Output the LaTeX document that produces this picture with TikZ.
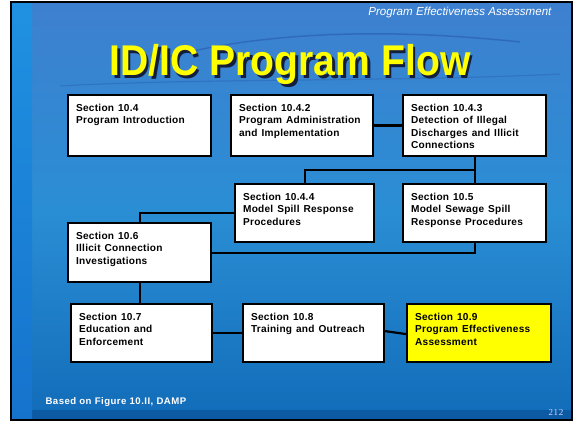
\documentclass[tikz,border=0pt]{standalone}
\usepackage{fontspec}
\setmainfont{Liberation Sans}
\newfontfamily\pgfont[LetterSpace=8]{Liberation Serif}
\newfontfamily\boxfont[LetterSpace=2.5,WordSpace=1.3]{Liberation Sans}
\newfontfamily\srcfont[LetterSpace=5]{Liberation Sans}
\usetikzlibrary{calc}
\definecolor{bgtop}{RGB}{62,128,208}
\definecolor{bgmid}{RGB}{42,142,212}
\definecolor{bglow}{RGB}{18,108,185}
\definecolor{bgbot}{RGB}{10,78,150}
\definecolor{strip}{RGB}{32,145,225}
\definecolor{stripbot}{RGB}{22,115,205}
\definecolor{boxyellow}{RGB}{255,255,0}
\definecolor{titleyellow}{RGB}{255,255,0}
\definecolor{titleshadow}{RGB}{20,30,60}
\newcommand{\secbox}[7][white]{%
  \node[secstyle, fill=#1] (#2) at (#3,#4)
  {\parbox[c][#6pt][t]{#5pt}{\raggedright\leftskip=8pt\baselineskip=12.3pt\vspace*{9.2pt}#7}};}
\begin{document}
\begin{tikzpicture}[x=1pt,y=-1pt,
  secstyle/.style={draw=black, line width=2.2pt, inner sep=0pt, anchor=north west,
    font=\boxfont\fontsize{10.1}{12.3}\selectfont\bfseries},
  link/.style={draw=black, line width=2.2pt}]
\useasboundingbox (0,0) rectangle (578,422);
\fill[white] (0,0) rectangle (578,422);
% slide background
\shade[top color=bgtop, bottom color=bglow, middle color=bgmid] (12,3) rectangle (571,419);
\fill[bgbot, opacity=0.6] (12,410) rectangle (571,419);
\shade[top color=strip, bottom color=stripbot] (12,3) rectangle (32,419);
% subtle ripples
\draw[black!60!blue, opacity=0.18, line width=1.5pt] (150,62) .. controls (250,32) and (380,27) .. (520,42);
\draw[black!60!blue, opacity=0.12, line width=1.2pt] (60,86) .. controls (200,78) and (400,82) .. (560,74);
\draw[black, line width=2pt] (11,2) rectangle (572,420);
% header
\node[font=\fontsize{11.6}{13}\selectfont\itshape, text=white, anchor=east] (hdr) at (555,13) {Program Effectiveness Assessment};
% title with shadow
\node[font=\fontsize{43}{48}\selectfont\bfseries, inner sep=0pt] (title) at (290,66)
  {\scalebox{0.91}[1]{\rlap{\hspace{2.8pt}\raisebox{-2.8pt}{\color{titleshadow}ID/IC Program Flow}}\color{titleyellow}ID/IC Program Flow}};
% boxes
\secbox{b1}{67}{94}{143}{61}{Section 10.4\\Program Introduction}
\secbox{b2}{230}{94}{142}{61}{Section 10.4.2\\Program Administration\\and Implementation}
\secbox{b3}{402}{94}{143}{61}{Section 10.4.3\\Detection of Illegal\\Discharges and Illicit\\Connections}
\secbox{b4}{234}{183}{139}{58}{Section 10.4.4\\Model Spill Response\\Procedures}
\secbox{b5}{402}{183}{143}{58}{Section 10.5\\Model Sewage Spill\\Response Procedures}
\secbox{b6}{67}{222}{143}{59}{Section 10.6\\Illicit Connection\\Investigations}
\secbox{b7}{70}{303}{141}{58}{Section 10.7\\Education and\\Enforcement}
\secbox{b8}{242}{303}{141}{58}{Section 10.8\\Training and Outreach}
\secbox[boxyellow]{b9}{406}{303}{144}{58}{Section 10.9\\Program Effectiveness\\Assessment}
% connectors
\coordinate (j1) at ($(b3.south)!0.5!(b4.north)$);
\path[link] (b2.east) -- (b3.west);
\path[link] (b3.south) -- (b5.north);
\path[link] (b3.south |- j1) -| (b4.north);
\path[link] (b4.west) -| (b6.north);
\path[link] (b6.east) -| (b5.south);
\path[link] (b6.south) -- (b6.south |- b7.north);
\path[link] (b7.east) -- (b8.west);
\path[link] ([yshift=2pt]b8.east) -- ([yshift=-1pt]b9.west);
% footer
\node[font=\srcfont\fontsize{9.6}{11}\selectfont\bfseries, text=white, anchor=west] (src) at (42,402) {Based on Figure 10.II, DAMP};
\node[font=\pgfont\fontsize{9}{10}\selectfont, text=white!85!blue, anchor=east] (pg) at (567,413) {212};
\end{tikzpicture}
\end{document}
